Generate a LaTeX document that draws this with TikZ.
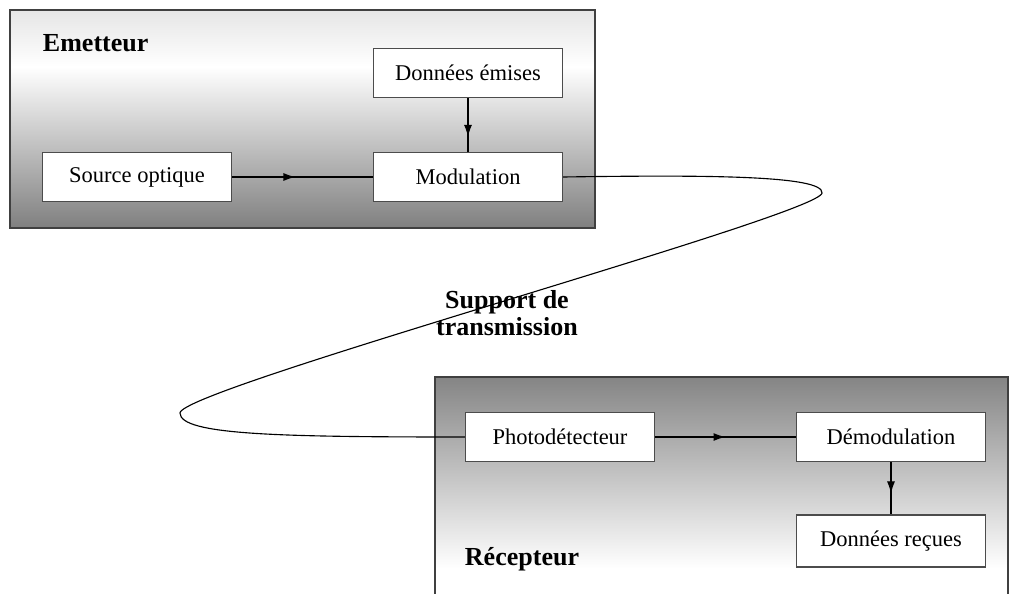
\documentclass[tikz,border=0pt]{standalone}
\usepackage{fontspec}
\setmainfont{Liberation Serif}
\usetikzlibrary{arrows.meta,decorations.markings}
\pgfdeclareverticalshading{emshade}{100bp}{color(0bp)=(black!50); color(25bp)=(black!50); color(62bp)=(white); color(75bp)=(black!10); color(100bp)=(black!10)}
\pgfdeclareverticalshading{reshade}{100bp}{color(0bp)=(white); color(33bp)=(white); color(75bp)=(black!48); color(100bp)=(black!48)}
\tikzset{
  bloc/.style={draw=black!70, line width=0.9pt, fill=white, minimum width=4.72cm, minimum height=1.22cm, font=\fontsize{16}{18}\selectfont},
  titre/.style={font=\fontsize{18.5}{21}\selectfont\bfseries},
  fleche/.style={line width=0.8pt, postaction={decorate}, decoration={markings, mark=at position #1 with {\arrow{Latex[length=3mm,width=2mm]}}}}
}
\begin{document}
\begin{tikzpicture}
      \useasboundingbox (0,0) rectangle (25.25,14.825);
      \clip (0,0) rectangle (25.25,14.825);
      \draw[black!75, line width=0.9pt, shading=emshade] (0.25,9.125) rectangle (14.875,14.575);
      \draw[black!75, line width=0.9pt, shading=reshade] (10.875,-0.3) rectangle (25.2,5.4);
      \draw
        (11.7,13.0) node[bloc] (de){Données émises}
        (3.425,10.4) node[bloc] (so){Source optique}
        (11.7,10.4) node[bloc] (mo){Modulation}
        (14.0,3.9) node[bloc] (ph){Photodétecteur}
        (22.275,3.9) node[bloc] (dm){Démodulation}
        (22.275,1.3) node[bloc, minimum height=1.3cm] (dr){Données reçues};
      \node[titre, anchor=west] (em) at (0.95,13.75) {Emetteur};
      \node[titre, anchor=west] (re) at (11.5,0.85) {Récepteur};
      \node[titre, align=center, inner sep=0pt] (su) at (12.675,7.0) {Support de\\[-2pt]transmission};
      \begin{scope}[-]
        \draw[fleche=0.45] (so) to (mo);
        \draw[fleche=0.72] (de) to (mo);
        \draw[fleche=0.5] (ph) to (dm);
        \draw[fleche=0.6] (dm) to (dr);
        \draw[line width=0.8pt] (mo.east) .. controls (17.5,10.45) and (20.6,10.45) .. (20.55,10.0)
          .. controls (20.5,9.45) and (4.5,5.1) .. (4.5,4.5)
          .. controls (4.5,3.95) and (7,3.9) .. (ph.west);
      \end{scope}
    \end{tikzpicture}
\end{document}
